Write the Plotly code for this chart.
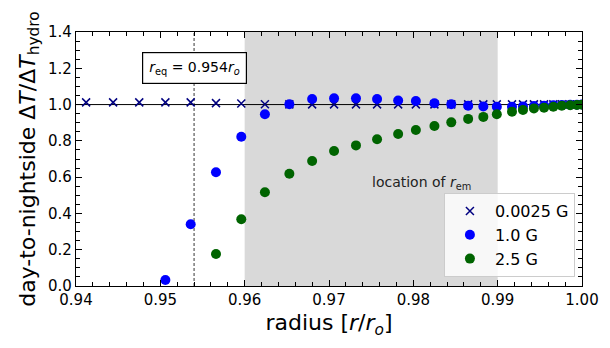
import plotly.graph_objects as go

# radius grid [r/r_o]
radius = [0.9412, 0.9444, 0.9475, 0.9506, 0.9536, 0.9566, 0.9596, 0.9624,
          0.9653, 0.9680, 0.9706, 0.9732, 0.9757, 0.9782, 0.9803, 0.9825,
          0.9845, 0.9865, 0.9883, 0.9899, 0.9917, 0.9930, 0.9943, 0.9955,
          0.9966, 0.9976, 0.9986, 0.9994, 1.0]

# 0.0025 G
dt_low = [1.012, 1.012, 1.012, 1.012, 1.012, 1.008, 1.006, 1.002,
          1.001, 1.001, 1.001, 1.001, 1.001, 1.001, 1.001, 1.001,
          1.001, 1.001, 1.001, 1.001, 1.001, 1.001, 1.001, 1.001,
          1.001, 1.001, 1.000, 1.000, 1.000]

# 1.0 G (starts at 0.9506)
radius_mid = radius[3:]
dt_mid = [0.033, 0.34, 0.627, 0.823, 0.947, 1.002, 1.031, 1.035,
          1.035, 1.031, 1.022, 1.02, 1.007, 1.002, 0.994, 0.99,
          0.988, 0.988, 0.99, 0.992, 0.994, 0.996, 0.998, 0.999,
          0.999, 1.0]

# 2.5 G (starts at 0.9566)
radius_high = radius[5:]
dt_high = [0.176, 0.368, 0.517, 0.619, 0.689, 0.744, 0.775, 0.809,
           0.838, 0.86, 0.882, 0.902, 0.921, 0.932, 0.947, 0.961,
           0.970, 0.979, 0.983, 0.988, 0.994, 0.996, 0.998, 0.999]

r_eq = 0.954
r_em = [0.96, 0.99]

font = "DejaVu Sans, Liberation Sans, sans-serif"

fig = go.Figure()

fig.add_trace(go.Scatter(x=radius, y=dt_low, mode="markers", name="0.0025 G",
                         marker=dict(symbol="x-thin-open", size=8, color="navy",
                                     line=dict(color="navy", width=1.5))))
fig.add_trace(go.Scatter(x=radius_mid, y=dt_mid, mode="markers", name="1.0 G",
                         marker=dict(symbol="circle", size=10, color="blue")))
fig.add_trace(go.Scatter(x=radius_high, y=dt_high, mode="markers", name="2.5 G",
                         marker=dict(symbol="circle", size=10, color="darkgreen")))

# shaded region, r_eq line, unity line
fig.add_vrect(x0=r_em[0], x1=r_em[1], fillcolor="#d9d9d9", line_width=0, layer="below")
fig.add_vline(x=r_eq, line=dict(color="black", width=0.8, dash="3px,2px"), layer="below")
fig.add_hline(y=1.0, line=dict(color="black", width=1), layer="below")

fig.add_annotation(x=r_eq, y=1.2, xref="x", yref="y", showarrow=False,
                   text="<i>r</i><sub>eq</sub> = 0.954<i>r</i><sub><i>o</i></sub>",
                   font=dict(size=14, color="black", family=font),
                   bgcolor="white", bordercolor="black", borderwidth=1.2, borderpad=6)
fig.add_annotation(x=0.981, y=0.57, xref="x", yref="y", showarrow=False,
                   text="location of <i>r</i><sub>em</sub>",
                   font=dict(size=14, color="#222222", family=font))

tick_common = dict(ticks="inside", mirror="allticks", showline=True, linecolor="black",
                   linewidth=1.2, ticklen=6, tickwidth=1.2, tickcolor="black",
                   showgrid=False, zeroline=False,
                   tickfont=dict(size=15, family=font, color="black"))

fig.update_xaxes(range=[0.94, 1.0], dtick=0.01, tickformat=".2f",
                 minor=dict(ticks="inside", dtick=0.002, ticklen=3.5, tickwidth=1, tickcolor="black"),
                 title=dict(text="radius [<i>r</i>/<i>r</i><sub><i>o</i></sub>]",
                            font=dict(size=22, family=font, color="black"), standoff=6),
                 **tick_common)
fig.update_yaxes(range=[0, 1.4], dtick=0.2, tickformat=".1f",
                 minor=dict(ticks="inside", dtick=0.05, ticklen=3.5, tickwidth=1, tickcolor="black"),
                 title=dict(text="day-to-nightside Δ<i>T</i>/Δ<i>T</i><sub>hydro</sub>",
                            font=dict(size=22, family=font, color="black"), standoff=6),
                 **tick_common)

fig.update_layout(
    width=610, height=348,
    margin=dict(l=76, r=28, t=32, b=62),
    plot_bgcolor="white", paper_bgcolor="white",
    font=dict(family=font, color="black"),
    legend=dict(x=0.986, y=0.035, xanchor="right", yanchor="bottom",
                bgcolor="rgba(255,255,255,0.8)", bordercolor="#cccccc", borderwidth=1,
                font=dict(size=16, family=font, color="black"),
                itemwidth=40, tracegroupgap=0),
)

fig.write_html("out.html", config={"displayModeBar": False},
               post_script="document.body.style.margin='0';")
